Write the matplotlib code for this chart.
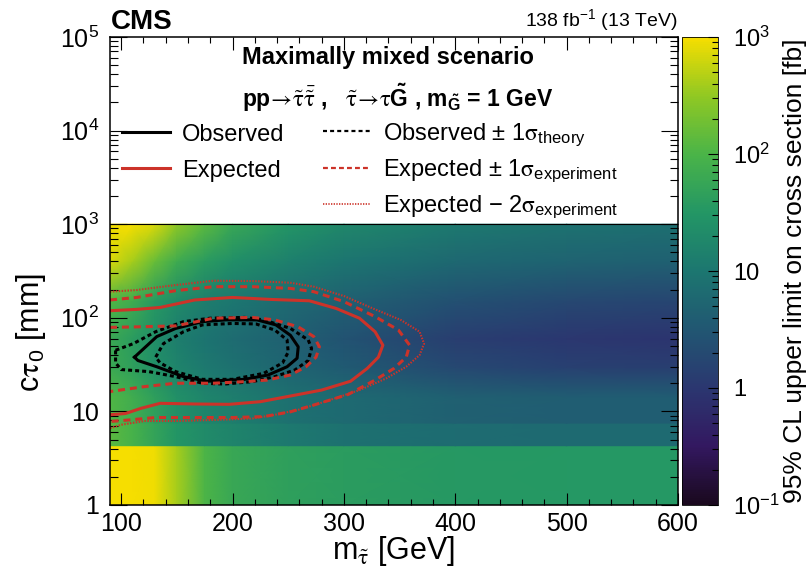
import numpy as np
import matplotlib
matplotlib.use("Agg")
import matplotlib.pyplot as plt
from matplotlib.colors import LinearSegmentedColormap, LogNorm
from matplotlib.font_manager import FontProperties
from matplotlib.lines import Line2D
from matplotlib.ticker import FuncFormatter, LogLocator, MultipleLocator, NullFormatter

plt.rcParams['font.family'] = ['Liberation Sans', 'DejaVu Sans']
plt.rcParams['mathtext.fontset'] = 'custom'
plt.rcParams['mathtext.rm'] = 'Liberation Sans'
plt.rcParams['mathtext.it'] = 'Liberation Sans:italic'
plt.rcParams['mathtext.bf'] = 'Liberation Sans:bold'
plt.rcParams['mathtext.default'] = 'regular'

# limit map (fb), rows of equal ctau make the flat bands at small ctau
mass = [90, 110, 130, 150, 175, 200, 250, 300, 400, 500, 600]
ctau_rows = [1, 4.3, 4.3, 7.5, 7.5, 14, 30, 60, 150, 400, 1000]
limit_fb = [
    [1000, 1000, 900, 400, 100, 60, 45, 40, 35, 33, 33],
    [1000, 1000, 900, 400, 100, 60, 45, 40, 35, 33, 33],
    [130, 90, 52, 30, 21, 16, 11, 8.3, 6.9, 6.3, 6.3],
    [130, 90, 52, 30, 21, 16, 11, 8.3, 6.9, 6.3, 6.3],
    [110, 75, 44, 25, 17, 13, 8.3, 6.3, 4.4, 4.0, 4.0],
    [110, 75, 44, 25, 17, 13, 8.3, 6.3, 4.4, 4.0, 4.0],
    [63, 44, 25, 16, 11, 8.3, 5.2, 3.6, 1.9, 1.4, 1.3],
    [63, 40, 23, 13, 9.1, 6.9, 4.4, 2.8, 1.3, 1.0, 0.9],
    [110, 70, 36, 20, 13, 10, 6.3, 4.4, 2.5, 1.9, 1.7],
    [700, 400, 160, 70, 38, 24, 14, 9.5, 6.0, 5.0, 4.5],
    [1000, 1000, 700, 300, 130, 60, 30, 18, 11, 8.5, 7.6],
]

# exclusion contours (mass GeV, ctau mm)
obs_m = [112, 132, 149, 173, 194, 222, 239, 252, 259, 258, 249, 232, 211, 177, 156, 132, 115]
obs_ct = [38, 63, 77, 91, 95, 95, 84, 65, 49, 37, 30, 24.5, 22, 21, 23.5, 30, 35]

obs_lo_m = [131, 138, 156, 173, 200, 221, 238, 249, 250, 245, 228, 200, 173, 149, 135]
obs_lo_ct = [38, 53, 71, 84, 87, 86, 74, 58, 43, 33, 25.5, 22, 22, 26.6, 33]

obs_hi_m = [95, 111, 131, 156, 180, 211, 228, 252, 268, 271, 268, 256, 238, 218, 193, 173, 149, 125, 100, 95]
obs_hi_ct = [45, 53, 71, 91, 99, 101, 95, 77, 58, 47, 35, 27.7, 23.5, 20.8, 19.6, 20, 23.5, 26.6, 28, 33]

exp_m = [90, 114, 135, 166, 200, 235, 269, 293, 314, 328, 335, 331, 321, 306, 280, 252, 225, 197, 166, 135, 118, 104, 90]
exp_ct = [119, 123, 129, 155, 165, 157, 152, 126, 99, 71, 51, 38, 28.8, 21, 16.9, 14.6, 12.7, 11.9, 12.0, 12.2, 10.8, 9.5, 9.2]

exp_up_m = [90, 114, 149, 183, 218, 238, 259, 273, 278, 275, 266, 252, 231, 211, 183, 149, 121, 90]
exp_up_ct = [79, 80, 82, 99, 101, 95, 80, 63, 49, 38, 30, 24.5, 21.6, 20.8, 20, 20, 18.4, 16.3]

exp_dn_m = [90, 114, 149, 183, 218, 252, 273, 300, 328, 349, 359, 356, 345, 328, 304, 273, 252, 228, 200, 166, 131, 107, 90]
exp_dn_ct = [155, 165, 195, 215, 215, 206, 190, 149, 103, 74, 51, 38, 28.8, 21.6, 15.2, 11.7, 9.9, 8.8, 8.6, 8.6, 8.6, 8.1, 7.8]

exp_dn2_m = [90, 114, 149, 183, 218, 252, 273, 300, 328, 351, 368, 372, 368, 356, 338, 314, 283, 259, 238, 218, 183, 149, 121, 100, 90]
exp_dn2_ct = [190, 198, 224, 249, 247, 237, 215, 171, 123, 95, 71, 53, 40, 30, 22.5, 16.9, 12.7, 10.4, 9.2, 8.4, 8.1, 7.9, 7.9, 7.2, 6.6]

# ROOT kViridis palette
root_viridis = LinearSegmentedColormap.from_list("root_viridis", [
    (26/255, 9/255, 30/255), (51/255, 24/255, 96/255), (43/255, 55/255, 112/255),
    (33/255, 87/255, 114/255), (28/255, 118/255, 112/255), (35/255, 150/255, 101/255),
    (74/255, 180/255, 72/255), (144/255, 200/255, 35/255), (246/255, 222/255, 0/255)])

red = '#cc3329'
dash_black = (0, (1.3, 1.0))
dash_red = (0, (2.3, 1.6))
dot_red = (0, (0.7, 0.7))

fig = plt.figure(figsize=(8.12, 5.73), dpi=100)
ax = fig.add_axes([110/812, 68/573, 568/812, 468/573])
cax = fig.add_axes([682/812, 68/573, 36/812, 468/573])

X, Y = np.meshgrid(mass, ctau_rows)
mesh = ax.pcolormesh(X, Y, np.array(limit_fb), shading='gouraud', cmap=root_viridis,
                     norm=LogNorm(vmin=0.1, vmax=1000), rasterized=True)
ax.axhline(ctau_rows[-1], color='black', lw=0.8)

def closed(a):
    return list(a) + [a[0]]

ax.plot(closed(obs_m), closed(obs_ct), color='black', lw=2.2)
ax.plot(closed(obs_lo_m), closed(obs_lo_ct), color='black', lw=2.2, ls=dash_black)
ax.plot(closed(obs_hi_m), closed(obs_hi_ct), color='black', lw=2.2, ls=dash_black)
ax.plot(exp_m, exp_ct, color=red, lw=2.2)
ax.plot(exp_up_m, exp_up_ct, color=red, lw=2.2, ls=dash_red)
ax.plot(exp_dn_m, exp_dn_ct, color=red, lw=2.2, ls=dash_red)
ax.plot(exp_dn2_m, exp_dn2_ct, color=red, lw=1.5, ls=dot_red)

ax.set_xlim(90, 600)
ax.set_yscale('log')
ax.set_ylim(1, 1e5)

def pow_label(v, pos):
    e = int(round(np.log10(v)))
    if e == 0:
        return '1'
    if e == 1:
        return '10'
    return '10$^{%d}$' % e

ax.xaxis.set_major_locator(MultipleLocator(100))
ax.xaxis.set_minor_locator(MultipleLocator(20))
ax.yaxis.set_major_locator(LogLocator(base=10, numticks=10))
ax.yaxis.set_minor_locator(LogLocator(base=10, subs=np.arange(2, 10), numticks=20))
ax.yaxis.set_major_formatter(FuncFormatter(pow_label))
ax.yaxis.set_minor_formatter(NullFormatter())
ax.tick_params(which='both', direction='in', top=True, right=True, labelsize=18, width=0.8)
ax.xaxis.set_tick_params(which='major', length=9, pad=5)
ax.xaxis.set_tick_params(which='minor', length=4.5)
ax.yaxis.set_tick_params(which='major', length=12.5, pad=8)
ax.yaxis.set_tick_params(which='minor', length=6)
for s in ax.spines.values():
    s.set_linewidth(1.1)

# greek letters from STIX (serif, like ROOT's symbol font)
ax.set_xlabel(r'm$_{\mathrm{\tilde{\tau}}}$ [GeV]', fontsize=22, math_fontfamily='stix')
ax.set_ylabel(r'c$\mathrm{\tau}_{0}$ [mm]', fontsize=22, math_fontfamily='stix')
ax.xaxis.set_label_coords(0.5, -0.063)
ax.yaxis.set_label_coords(-0.109, 0.3675)

# colour bar
cb = fig.colorbar(mesh, cax=cax)
cb.outline.set_linewidth(0.6)
cb.set_ticks([0.1, 1, 10, 100, 1000])
cb.ax.yaxis.set_major_formatter(FuncFormatter(pow_label))
cb.ax.tick_params(which='both', direction='in', labelsize=17, width=0.8, pad=11)
cb.ax.tick_params(which='major', length=7.5)
cb.ax.tick_params(which='minor', length=4.5)
fig.text(795/812, (573 - 271)/573, '95% CL upper limit on cross section [fb]', fontsize=19,
         rotation=90, ha='center', va='center')

# texts
fig.text(111/812, 1 - 22/573, 'CMS', fontsize=20, fontweight='bold', ha='left', va='center')
fig.text(678/812, 1 - 20/573, r'138 fb$^{-1}$ (13 TeV)', fontsize=14, ha='right', va='center')
ax.text(0.4886, 0.957, 'Maximally mixed scenario', transform=ax.transAxes, fontsize=17,
        fontweight='bold', ha='center', va='center')
ax.text(0.506, 0.851,
        r'pp$\mathrm{\!\rightarrow\!\tilde{\tau}\bar{\tilde{\tau}}}$ ,   '
        r'$\mathrm{\tilde{\tau}\!\rightarrow\!\tau}\tilde{G}$ , m$_{\tilde{G}}$ = 1 GeV',
        transform=ax.transAxes, fontsize=16.5, fontweight='bold', ha='center', va='baseline',
        math_fontfamily='stix')

# legends
h_obs = Line2D([], [], color='black', lw=2.2)
h_exp = Line2D([], [], color=red, lw=2.2)
h_obs_th = Line2D([], [], color='black', lw=1.6, ls=(0, (1.8, 1.4)))
h_exp_1 = Line2D([], [], color=red, lw=1.6, ls=(0, (2.2, 1.4)))
h_exp_2 = Line2D([], [], color=red, lw=1.2, ls=(0, (0.8, 0.8)))

leg_font = FontProperties(family=['Liberation Sans', 'DejaVu Sans'], size=17, math_fontfamily='stix')
leg_kw = dict(frameon=False, prop=leg_font, handlelength=2.05, handletextpad=0.5,
              borderpad=0, borderaxespad=0, loc='upper left')
leg1 = ax.legend([h_obs, h_exp], ['Observed', 'Expected'], labelspacing=0.6,
                 bbox_to_anchor=(0.021, 0.815), **leg_kw)
ax.add_artist(leg1)
ax.legend([h_obs_th, h_exp_1, h_exp_2],
          [r'Observed $\pm$ 1$\mathrm{\sigma}_{theory}$',
           r'Expected $\pm$ 1$\mathrm{\sigma}_{experiment}$',
           r'Expected $-$ 2$\mathrm{\sigma}_{experiment}$'], labelspacing=0.38,
          bbox_to_anchor=(0.375, 0.82), **leg_kw)

fig.savefig('out.png', dpi=100)
